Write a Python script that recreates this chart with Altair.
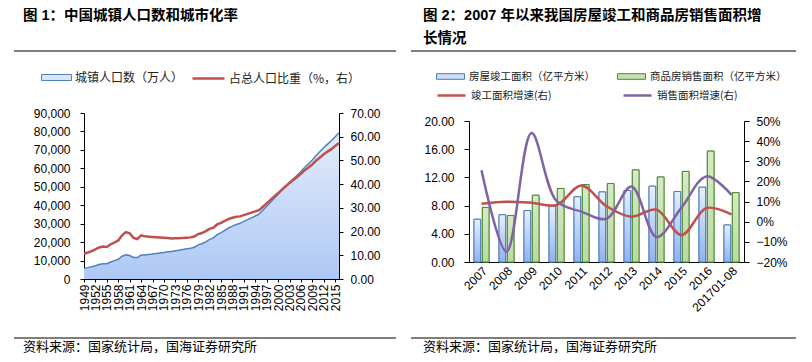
import altair as alt
import pandas as pd

# ---------------- data: figure 1 ----------------
years = list(range(1949, 2017))
urban_pop = [5765, 6169, 6632, 7163, 7826, 8249, 8285, 9185, 9949, 10721,
             12371, 13073, 12707, 11659, 11646, 12950, 13045, 13313, 13548, 13838,
             14117, 14424, 14711, 14935, 15345, 15595, 16030, 16341, 16669, 17245,
             18495, 19140, 20171, 21480, 22274, 24017, 25094, 26366, 27674, 28661,
             29540, 30195, 31203, 32175, 33173, 34169, 35174, 37304, 39449, 41608,
             43748, 45906, 48064, 50212, 52376, 54283, 56212, 58288, 60633, 62403,
             64512, 66978, 69079, 71182, 73111, 74916, 77116, 79298]
urban_rate = [10.64, 11.18, 11.78, 12.46, 13.31, 13.69, 13.48, 14.62, 15.39, 16.25,
              18.41, 19.75, 19.29, 17.33, 16.84, 18.37, 17.98, 17.86, 17.74, 17.62,
              17.50, 17.38, 17.26, 17.13, 17.20, 17.16, 17.34, 17.44, 17.55, 17.92,
              18.96, 19.39, 20.16, 21.13, 21.62, 23.01, 23.71, 24.52, 25.32, 25.81,
              26.21, 26.41, 26.94, 27.46, 27.99, 28.51, 29.04, 30.48, 31.91, 33.35,
              34.78, 36.22, 37.66, 39.09, 40.53, 41.76, 42.99, 44.34, 45.89, 46.99,
              48.34, 49.95, 51.27, 52.57, 53.73, 54.77, 56.10, 57.35]
year_ticks = list(range(1949, 2016, 3))

# ---------------- data: figure 2 ----------------
cats = ["2007", "2008", "2009", "2010", "2011", "2012", "2013", "2014", "2015", "2016", "201701-08"]
completed_area = [6.06, 6.70, 7.30, 7.87, 9.26, 9.94, 10.14, 10.75, 10.00, 10.61, 5.25]
sales_area = [7.74, 6.59, 9.47, 10.43, 10.99, 11.13, 13.06, 12.06, 12.85, 15.73, 9.84]
completed_growth = [0.089, 0.099, 0.094, 0.083, 0.180, 0.077, 0.025, 0.060, -0.066, 0.068, 0.036]
sales_growth = [0.255, -0.149, 0.440, 0.103, 0.050, 0.015, 0.175, -0.076, 0.070, 0.225, 0.133]

S_POP = "城镇人口数（万人）"
S_RATE = "占总人口比重（%，右）"
S_COMP = "房屋竣工面积（亿平方米）"
S_SALE = "商品房销售面积（亿平方米）"
S_CG = "竣工面积增速(右)"
S_SG = "销售面积增速(右)"

TITLE1 = "图 1：中国城镇人口数和城市化率"
TITLE2A = "图 2：2007 年以来我国房屋竣工和商品房销售面积增"
TITLE2B = "长情况"
SOURCE = "资料来源：国家统计局，国海证券研究所"

FN = "Liberation Sans, Arial, Noto Sans CJK SC"
FC = "Noto Sans CJK SC"
RECT = "M-1,-0.2L1,-0.2L1,0.2L-1,0.2Z"

df1 = pd.DataFrame({"year": years, "pop": urban_pop, "rate": urban_rate})
df1["s1"] = S_POP
df1["s2"] = S_RATE

bars = pd.DataFrame({"cat": cats * 2,
                     "series": [S_COMP] * len(cats) + [S_SALE] * len(cats),
                     "value": completed_area + sales_area})
lines = pd.DataFrame({"cat": cats * 2,
                      "lseries": [S_CG] * len(cats) + [S_SG] * len(cats),
                      "growth": completed_growth + sales_growth})
one = pd.DataFrame({"k": [0]})


def ax(**kw):
    base = dict(title=None, grid=False, domainColor="#000", tickColor="#000",
                labelColor="#000", labelFont=FN, labelFontSize=12, tickSize=4,
                labelOverlap=False)
    base.update(kw)
    return alt.Axis(**base)


def decor(x0, x1, tx, titles):
    out = []
    for txt, ty in titles:
        out.append(alt.Chart(one).mark_text(align="left", baseline="top", font=FN,
                                            fontSize=14.5, fontWeight="bold", color="#000")
                   .encode(x=alt.value(tx), y=alt.value(ty), text=alt.value(txt)))
    for yy in (-62, 225):
        out.append(alt.Chart(one).mark_rule(color="#000", strokeWidth=1.2)
                   .encode(x=alt.value(x0), x2=alt.value(x1), y=alt.value(yy)))
    out.append(alt.Chart(one).mark_text(align="left", baseline="middle", font=FC,
                                        fontSize=13, color="#000")
               .encode(x=alt.value(tx), y=alt.value(234), text=alt.value(SOURCE)))
    return out


def leg(**kw):
    base = dict(title=None, orient="none", padding=0, labelFont=FC, labelColor="#222",
                labelLimit=300)
    base.update(kw)
    return alt.Legend(**base)


# ---------------- left panel ----------------
x1 = alt.X("year:Q", scale=alt.Scale(domain=[1949, 2016], nice=False, zero=False),
           axis=ax(values=year_ticks, format="d", labelAngle=-90, tickSize=3, labelPadding=2))
ypop = alt.Y("pop:Q", stack=None, scale=alt.Scale(domain=[0, 90000], nice=False),
             axis=ax(values=list(range(0, 90001, 10000)), format=",.0f", labelPadding=10))

area_grad_fill = alt.Gradient(gradient="linear",
                              stops=[alt.GradientStop(color="#e6eefc", offset=0),
                                     alt.GradientStop(color="#9bbcf4", offset=1)],
                              x1=1, x2=1, y1=0, y2=1)

area_leg = alt.Chart(df1).mark_area().encode(
    x=x1, y=ypop,
    fill=alt.Fill("s1:N", scale=alt.Scale(domain=[S_POP], range=["#dae5f8"]),
                  legend=leg(legendX=-43, legendY=-51, symbolType=RECT, symbolSize=900,
                             symbolStrokeColor="#4f81bd", symbolStrokeWidth=1,
                             labelOffset=3, labelFontSize=12)))
area_grad = alt.Chart(df1).mark_area(
    fill=area_grad_fill,
    line=alt.OverlayMarkDef(color="#4f81bd", strokeWidth=1.5)).encode(x=x1, y=ypop)

red = alt.Chart(df1).mark_line(strokeWidth=2.5).encode(
    x=x1,
    y=alt.Y("rate:Q", scale=alt.Scale(domain=[0, 70], nice=False),
            axis=ax(orient="right", values=list(range(0, 71, 10)), format=".2f", labelPadding=7)),
    color=alt.Color("s2:N", scale=alt.Scale(domain=[S_RATE], range=["#c0504d"]),
                    legend=leg(legendX=107, legendY=-52, symbolType="stroke", symbolSize=1024,
                               symbolStrokeWidth=2.5, labelOffset=3, labelFontSize=12)))

left = alt.layer(alt.layer(area_leg, area_grad), red,
                 *decor(-70, 312, -61, [(TITLE1, -104)])
                 ).resolve_scale(y="independent").properties(width=255, height=166)

# ---------------- right panel ----------------
xs = alt.Scale(type="band", domain=cats, paddingInner=0.4, paddingOuter=0.2)
x2 = alt.X("cat:N", scale=xs, sort=cats,
           axis=ax(labelAngle=-45, ticks=False, labelPadding=3))
xo = alt.XOffset("series:N", scale=alt.Scale(domain=[S_COMP, S_SALE], paddingInner=0.2))
yl = alt.Y("value:Q", stack=None, scale=alt.Scale(domain=[0, 20], range=[149, 8], nice=False),
           axis=ax(values=[0, 4, 8, 12, 16, 20], format=".2f", tickSize=5, labelPadding=10))

bar_legend = leg(legendX=-33, legendY=-51, direction="horizontal", columns=2, columnPadding=20,
                 symbolType=RECT, symbolSize=784, symbolStrokeWidth=1,
                 labelOffset=4, labelFontSize=10.5)
bar_leg = alt.Chart(bars).mark_bar(strokeWidth=1).encode(
    x=x2, xOffset=xo, y=yl,
    fill=alt.Fill("series:N", scale=alt.Scale(domain=[S_COMP, S_SALE], range=["#cfdef7", "#c4dfb1"]),
                  legend=bar_legend),
    stroke=alt.Stroke("series:N", scale=alt.Scale(domain=[S_COMP, S_SALE], range=["#4a7ebb", "#4e8a2e"]),
                      legend=bar_legend))

blue_grad = alt.Gradient(gradient="linear",
                         stops=[alt.GradientStop(color="#e8effc", offset=0),
                                alt.GradientStop(color="#8fb2ef", offset=1)],
                         x1=1, x2=1, y1=0, y2=1)
green_grad = alt.Gradient(gradient="linear",
                          stops=[alt.GradientStop(color="#d6eac7", offset=0),
                                 alt.GradientStop(color="#b9d9a2", offset=1)],
                          x1=1, x2=1, y1=0, y2=1)

bar_blue = alt.Chart(bars).transform_filter(alt.datum.series == S_COMP).mark_bar(
    fill=blue_grad, stroke="#4a7ebb", strokeWidth=1).encode(x=x2, xOffset=xo, y=yl)
bar_green = alt.Chart(bars).transform_filter(alt.datum.series == S_SALE).mark_bar(
    fill=green_grad, stroke="#4e8a2e", strokeWidth=1).encode(x=x2, xOffset=xo, y=yl)

glines = alt.Chart(lines).mark_line(strokeWidth=2.5, interpolate="catmull-rom").encode(
    x=x2,
    y=alt.Y("growth:Q", scale=alt.Scale(domain=[-0.2, 0.5], range=[149, 8], nice=False),
            axis=ax(orient="right", values=[-0.2, -0.1, 0, 0.1, 0.2, 0.3, 0.4, 0.5],
                    format=".0%", tickSize=5, labelPadding=7)),
    color=alt.Color("lseries:N", scale=alt.Scale(domain=[S_CG, S_SG], range=["#c0504d", "#8064a2"]),
                    legend=leg(legendX=-33, legendY=-33, direction="horizontal", columns=2,
                               columnPadding=66, symbolType="stroke", symbolSize=784,
                               symbolStrokeWidth=2.5, labelOffset=4, labelFontSize=10.5)))

right = alt.layer(alt.layer(bar_leg, bar_blue, bar_green), glines,
                  *decor(-58, 327, -46, [(TITLE2A, -104), (TITLE2B, -81)])
                  ).resolve_scale(y="independent").properties(width=275, height=149)

chart = alt.hconcat(left, right, spacing=130).resolve_scale(
    color="independent", fill="independent", stroke="independent"
).resolve_legend(
    color="independent", fill="independent", stroke="independent"
).properties(
    bounds="flush", padding={"left": 5, "top": 0, "right": 5, "bottom": 0}
).configure_view(stroke=None)

chart.save("out.html", embed_options={"renderer": "svg", "actions": False})
